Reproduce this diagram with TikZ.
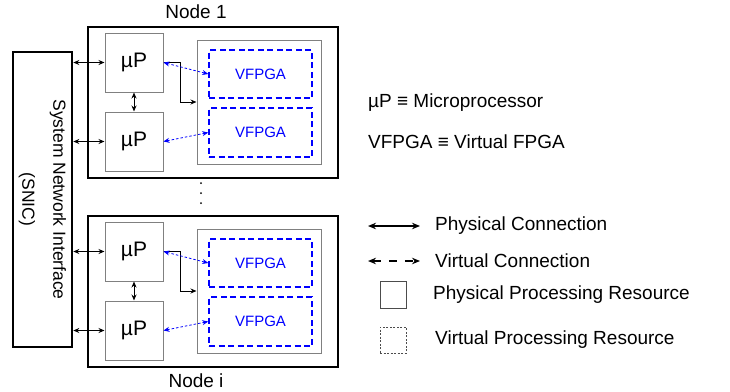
\documentclass[tikz,border=0pt]{standalone}
\usepackage{fontspec}
\setmainfont{Liberation Sans}
\usetikzlibrary{arrows.meta}

\tikzset{
  nodebox/.style={draw,line width=2.6pt,inner sep=0pt},
  upbox/.style={draw=gray,line width=1pt,minimum width=58pt,minimum height=59pt,
    inner sep=0pt,font=\fontsize{21}{24}\selectfont},
  fpbox/.style={draw=gray,line width=1pt,minimum width=124pt,minimum height=124pt,inner sep=0pt},
  vfbox/.style={draw=blue,text=blue,line width=1.5pt,dash pattern=on 6pt off 3.5pt,
    minimum width=103pt,minimum height=48pt,inner sep=0pt,font=\fontsize{15}{18}\selectfont},
  phys/.style={{Stealth[length=6pt,width=5pt]}-{Stealth[length=6pt,width=5pt]},line width=1pt},
  virt/.style={{Stealth[length=6pt,width=5pt]}-{Stealth[length=6pt,width=5pt]},blue,
    line width=0.8pt,dash pattern=on 2.5pt off 2pt},
  legarrow/.style={{Stealth[length=8pt,width=6.5pt]}-{Stealth[length=8pt,width=6.5pt]},line width=1.7pt},
  lbl/.style={font=\fontsize{19}{22}\selectfont,inner sep=0pt},
  legtxt/.style={lbl,anchor=west},
}

\begin{document}
\begin{tikzpicture}[x=1pt,y=-1pt]
\useasboundingbox (0,0) rectangle (730,391);

% system network interface
\node[nodebox,minimum width=59pt,minimum height=295pt] (snic) at (42.5,199.5) {};
\node[rotate=-90,align=center,font=\fontsize{17.5}{31}\selectfont] at (snic.center) {System Network Interface\\(SNIC)};

% node 1
\node[nodebox,minimum width=250pt,minimum height=151pt] (n1) at (213,102.5) {};
\node[lbl] at (196,12) {Node 1};
\node[upbox] (up1a) at (134,62.5) {µP};
\node[upbox] (up1b) at (134,141.5) {µP};
\node[fpbox] (fp1) at (259,102) {};
\node[vfbox] (vf1a) at (260.5,74) {VFPGA};
\node[vfbox,minimum height=49pt] (vf1b) at (260.5,132.5) {VFPGA};

\draw[phys] (up1a.west -| snic.east) -- (up1a.west);
\draw[phys] (up1b.west -| snic.east) -- (up1b.west);
\draw[phys] (up1a.south) -- (up1b.north);
\draw[-{Stealth[length=6pt,width=5pt]},line width=1pt] (up1a.east) -- ++(17,0) |- (fp1.west);
\draw[virt] (up1a.east) -- (vf1a.west);
\draw[virt] (up1b.east) -- (vf1b.west);

% dots
\fill (201,183) circle (1pt) (201,193) circle (1pt) (201,203) circle (1pt);

% node i
\node[nodebox,minimum width=250pt,minimum height=151pt] (ni) at (213,291.5) {};
\node[lbl] at (196,381) {Node i};
\node[upbox] (upia) at (134,251.5) {µP};
\node[upbox] (upib) at (134,330.5) {µP};
\node[fpbox] (fpi) at (259,291) {};
\node[vfbox] (vfia) at (260.5,263) {VFPGA};
\node[vfbox,minimum height=49pt] (vfib) at (260.5,321.5) {VFPGA};

\draw[phys] (upia.west -| snic.east) -- (upia.west);
\draw[phys] (upib.west -| snic.east) -- (upib.west);
\draw[phys] (upia.south) -- (upib.north);
\draw[-{Stealth[length=6pt,width=5pt]},line width=1pt] (upia.east) -- ++(17,0) |- (fpi.west);
\draw[virt] (upia.east) -- (vfia.west);
\draw[virt] (upib.east) -- (vfib.west);

% legend
\node[legtxt] (defup) at (368,103) {µP ≡ Microprocessor};
\node[legtxt] (defvf) at (368,142) {VFPGA ≡ Virtual FPGA};

\coordinate (pa) at (368,226);
\coordinate (pb) at (420,226);
\draw[legarrow] (pa) -- (pb);
\node[legtxt] (physc) at (435,226) {Physical Connection};

\coordinate (va) at (368,261);
\coordinate (vb) at (420,261);
\draw[legarrow,dash pattern=on 8.5pt off 7.5pt] (va) -- (vb);
\node[legtxt] (virtc) at (435,261) {Virtual Connection};

\node[draw=black!70,line width=1pt,minimum width=26pt,minimum height=27pt] (physr) at (393,294.5) {};
\node[legtxt] at (433,295) {Physical Processing Resource};

\node[draw=black!70,line width=0.7pt,dash pattern=on 2pt off 1.5pt,minimum width=26pt,minimum height=26pt] (virtr) at (393,340) {};
\node[legtxt] at (435,340) {Virtual Processing Resource};
\end{tikzpicture}
\end{document}
